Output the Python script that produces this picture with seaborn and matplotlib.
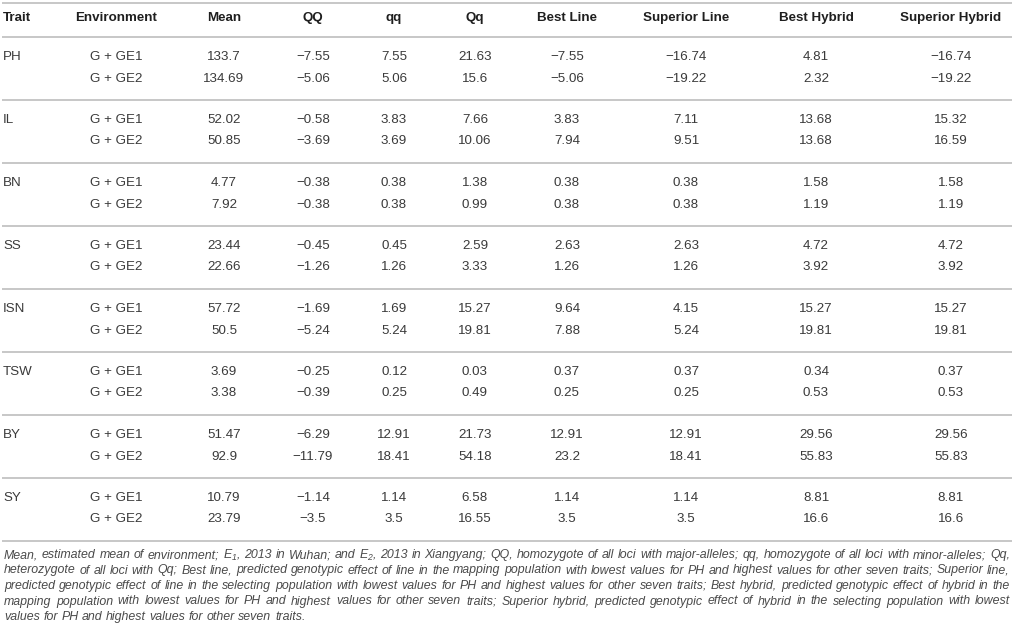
# Table: genotypic effects per trait and environment
import matplotlib
matplotlib.use('Agg')
import matplotlib.pyplot as plt
import seaborn as sns
from matplotlib import font_manager

# ---- data ----
traits = ['PH', 'IL', 'BN', 'SS', 'ISN', 'TSW', 'BY', 'SY']
environments = ['G + GE1', 'G + GE2']
headers = ['Trait', 'Environment', 'Mean', 'QQ', 'qq', 'Qq', 'Best Line',
           'Superior Line', 'Best Hybrid', 'Superior Hybrid']

mean = [133.7, 134.69, 52.02, 50.85, 4.77, 7.92, 23.44, 22.66,
        57.72, 50.5, 3.69, 3.38, 51.47, 92.9, 10.79, 23.79]
QQ = [-7.55, -5.06, -0.58, -3.69, -0.38, -0.38, -0.45, -1.26,
      -1.69, -5.24, -0.25, -0.39, -6.29, -11.79, -1.14, -3.5]
qq = [7.55, 5.06, 3.83, 3.69, 0.38, 0.38, 0.45, 1.26,
      1.69, 5.24, 0.12, 0.25, 12.91, 18.41, 1.14, 3.5]
Qq = [21.63, 15.6, 7.66, 10.06, 1.38, 0.99, 2.59, 3.33,
      15.27, 19.81, 0.03, 0.49, 21.73, 54.18, 6.58, 16.55]
best_line = [-7.55, -5.06, 3.83, 7.94, 0.38, 0.38, 2.63, 1.26,
             9.64, 7.88, 0.37, 0.25, 12.91, 23.2, 1.14, 3.5]
superior_line = [-16.74, -19.22, 7.11, 9.51, 0.38, 0.38, 2.63, 1.26,
                 4.15, 5.24, 0.37, 0.25, 12.91, 18.41, 1.14, 3.5]
best_hybrid = [4.81, 2.32, 13.68, 13.68, 1.58, 1.19, 4.72, 3.92,
               15.27, 19.81, 0.34, 0.53, 29.56, 55.83, 8.81, 16.6]
superior_hybrid = [-16.74, -19.22, 15.32, 16.59, 1.58, 1.19, 4.72, 3.92,
                   15.27, 19.81, 0.37, 0.53, 29.56, 55.83, 8.81, 16.6]

note_lines = [
    "Mean, estimated mean of environment; $E_1$, 2013 in Wuhan; and $E_2$, 2013 in Xiangyang; QQ, homozygote of all loci with major-alleles; qq, homozygote of all loci with minor-alleles; Qq,",
    "heterozygote of all loci with Qq; Best line, predicted genotypic effect of line in the mapping population with lowest values for PH and highest values for other seven traits; Superior line,",
    "predicted genotypic effect of line in the selecting population with lowest values for PH and highest values for other seven traits; Best hybrid, predicted genotypic effect of hybrid in the",
    "mapping population with lowest values for PH and highest values for other seven traits; Superior hybrid, predicted genotypic effect of hybrid in the selecting population with lowest",
    "values for PH and highest values for other seven traits.",
]

value_cols = [mean, QQ, qq, Qq, best_line, superior_line, best_hybrid, superior_hybrid]

# ---- layout ----
W, H = 1014, 635
col_x = [3, 116, 224, 313, 394, 475, 567, 686, 816, 951]
header_y = 18
rule_top = 3
rule_header = 37
group_h = 63
row_off = [20, 41.5]
note_y0 = 555
note_dy = 15.5
note_left, note_right = 4, 1010

text_color = '#3a3a3a'
head_color = '#1f1f1f'
note_color = '#4a4a4a'
rule_color = '#c3c3c3'

sns.set_theme(style='white')
plt.rcParams['font.family'] = ['Liberation Sans', 'DejaVu Sans']

names = {f.name for f in font_manager.fontManager.ttflist}
note_font = 'Liberation Sans Narrow' if 'Liberation Sans Narrow' in names else 'Liberation Sans'
plt.rcParams['mathtext.fontset'] = 'custom'
plt.rcParams['mathtext.it'] = note_font + ':italic'
plt.rcParams['mathtext.rm'] = note_font + ':italic'

fig = plt.figure(figsize=(W / 100, H / 100), dpi=100)
ax = fig.add_axes([0, 0, 1, 1])
ax.set_xlim(0, W)
ax.set_ylim(H, 0)
ax.axis('off')

fs = 9.6

# header
for i, h in enumerate(headers):
    ax.text(col_x[i], header_y, h, ha='left' if i == 0 else 'center', va='center',
            fontsize=fs, fontweight='bold', color=head_color)

# rules
rules = [rule_top, rule_header] + [rule_header + group_h * (g + 1) for g in range(len(traits))]
for y in rules:
    ax.plot([2, W - 2], [y, y], color=rule_color, lw=1.3, solid_capstyle='butt')


def fmt(v):
    s = f"{v:g}"
    return s.replace('-', '\u2212')


# body
for g, trait in enumerate(traits):
    for r, env in enumerate(environments):
        y = rule_header + group_h * g + row_off[r]
        k = 2 * g + r
        if r == 0:
            ax.text(col_x[0], y, trait, ha='left', va='center', fontsize=fs, color=text_color)
        ax.text(col_x[1], y, env, ha='center', va='center', fontsize=fs, color=text_color)
        for j, col in enumerate(value_cols):
            ax.text(col_x[j + 2], y, fmt(col[k]), ha='center', va='center',
                    fontsize=fs, color=text_color)

# footnote, justified word by word
fig.canvas.draw()
renderer = fig.canvas.get_renderer()
base = 10.0
probe = ax.text(0, 0, 'a a', fontsize=base, family=note_font, style='italic')
probe2 = ax.text(0, 0, 'aa', fontsize=base, family=note_font, style='italic')
space_w = probe.get_window_extent(renderer).width - probe2.get_window_extent(renderer).width
probe.remove()
probe2.remove()

line_words = []
natural = []
for line in note_lines:
    words = line.split(' ')
    ts = [ax.text(0, 0, w, fontsize=base, family=note_font, style='italic') for w in words]
    ws = [t.get_window_extent(renderer).width for t in ts]
    for t in ts:
        t.remove()
    line_words.append(words)
    natural.append(sum(ws) + space_w * (len(ws) - 1))

note_fs = base * (note_right - note_left) * 0.995 / max(natural)

for i, words in enumerate(line_words):
    y = note_y0 + i * note_dy
    ts = [ax.text(0, y, w, fontsize=note_fs, family=note_font, style='italic',
                  color=note_color, ha='left', va='center') for w in words]
    fig.canvas.draw()
    ws = [t.get_window_extent(renderer).width for t in ts]
    if i < len(line_words) - 1:
        gap = (note_right - note_left - sum(ws)) / (len(ws) - 1)
    else:
        gap = space_w * note_fs / base
    x = note_left
    for t, w in zip(ts, ws):
        t.set_x(x)
        x += w + gap

fig.savefig('out.png', dpi=100)
